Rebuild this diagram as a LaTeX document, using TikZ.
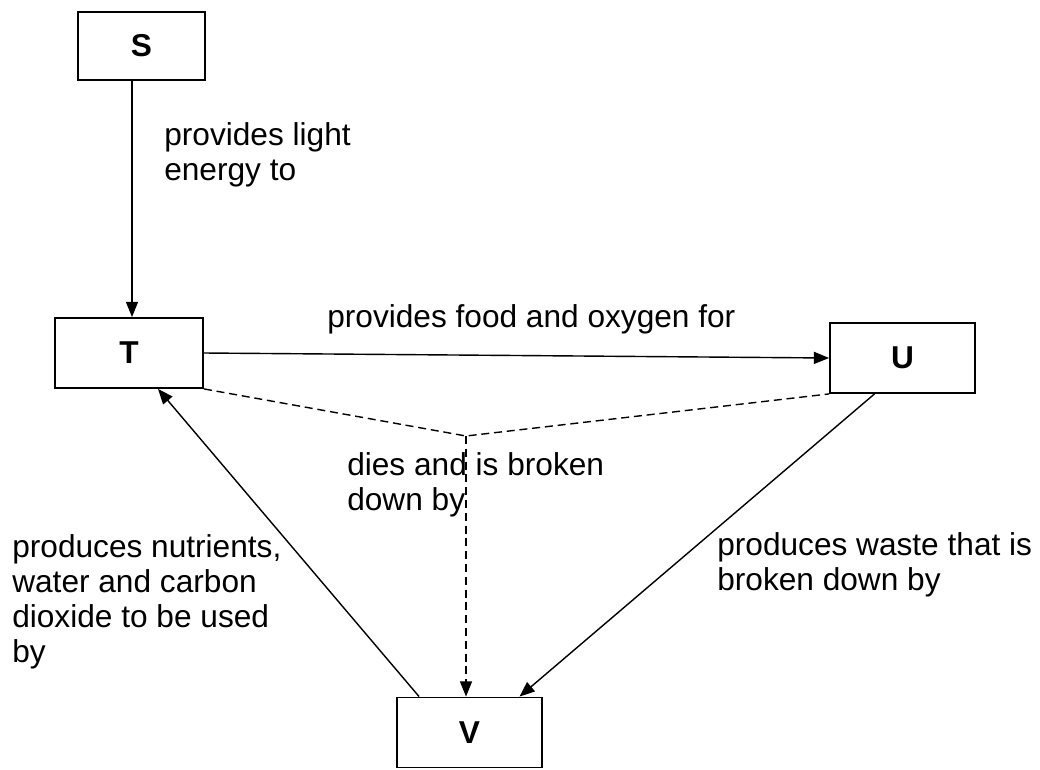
\documentclass[tikz,border=0pt]{standalone}
\usepackage{fontspec}
\setmainfont{Liberation Sans}
\usetikzlibrary{arrows.meta}

\begin{document}
\begin{tikzpicture}[
    x=0.025cm, y=-0.025cm,
    font=\fontsize{22.5}{25}\selectfont,
    box/.style={rectangle, draw=black, line width=1.3pt, minimum width=3.625cm, minimum height=1.75cm, font=\fontsize{22.5}{25}\selectfont\bfseries, inner sep=0pt},
    linktext/.style={align=left, inner sep=0pt, anchor=north west},
    arrow/.style={-{Triangle[length=0.38cm, width=0.3cm]}, line width=1pt, color=black},
    decay/.style={dash pattern=on 0.2cm off 0.12cm, line width=1pt}
]
    \useasboundingbox (0,0) rectangle (1040,770);

    % the four boxes
    \node[box, minimum width=3.175cm, minimum height=1.7cm] (S) at (141.5,46) {S};
    \node[box, minimum width=3.7cm] (T) at (129,353) {T};
    \node[box] (U) at (902.5,358) {U};
    \node[box] (V) at (469.5,732.5) {V};

    % joining point of the dashed lines
    \coordinate (m) at (466,436);

    % connectors
    \draw[arrow] ([xshift=0.075cm]S.south -| T.north) -- ([xshift=0.075cm]T.north);
    \draw[arrow] (T.east) -- (U.west);
    \draw[decay] (T.south east) -- (m) -- (U.south west);
    \draw[decay, arrow, dash pattern=on 0.2cm off 0.12cm] (m) -- (m |- V.north);
    \draw[arrow] ([xshift=0.575cm]V.north west) -- ([xshift=0.725cm]T.south);
    \draw[arrow] ([xshift=-0.7cm]U.south) -- ([xshift=1.25cm]V.north);

    % texts on the connectors
    \node[linktext] (light) at (164,122) {provides light\\energy to};
    \node[anchor=base west, inner sep=0pt] (food) at (327,327) {provides food and oxygen for};
    \node[linktext] (dies) at (347,452) {dies and is broken\\down by};
    \node[linktext] (nutrients) at (12,534) {produces nutrients,\\water and carbon\\dioxide to be used\\by};
    \node[linktext] (waste) at (717,532) {produces waste that is\\broken down by};
\end{tikzpicture}
\end{document}
